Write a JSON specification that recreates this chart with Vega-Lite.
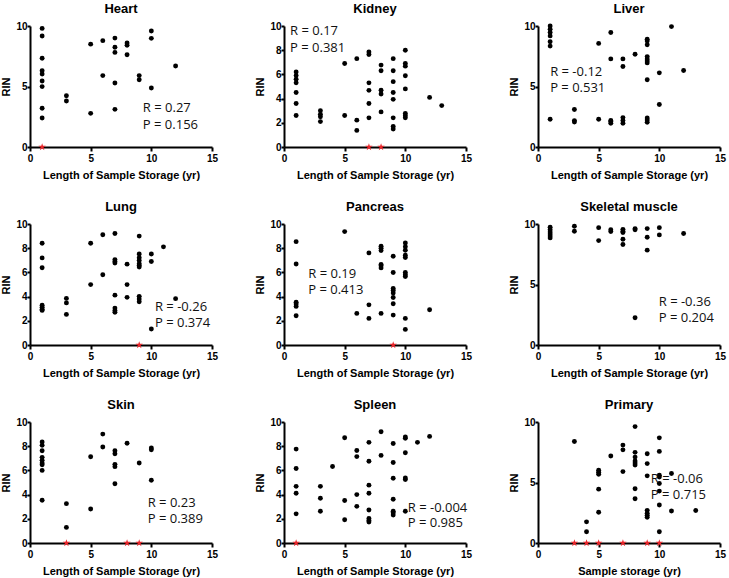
{
"$schema": "https://vega.github.io/schema/vega-lite/v6.json",
"padding": {"left": 0, "top": 3, "right": 2, "bottom": 2},
"background": "white",
"columns": 3,
"spacing": {"row": 21, "column": 36},
"config": {
  "view": {"stroke": null},
  "title": {"font": "Liberation Sans", "fontSize": 13, "fontWeight": "bold", "color": "black", "frame": "group", "offset": 5},
  "axis": {"grid": false, "domainColor": "black", "domainWidth": 2, "tickColor": "black", "tickWidth": 2, "labelFont": "Liberation Sans", "labelFontSize": 10, "labelFontWeight": "bold", "labelColor": "black", "labelFlush": false, "titleFont": "Liberation Sans", "titleFontSize": 11, "titleFontWeight": "bold", "titleColor": "black", "titlePadding": 4},
  "axisX": {"tickSize": 4, "labelPadding": 2, "titlePadding": 6},
  "axisY": {"tickSize": 3, "labelPadding": 0}
},
"datasets": {
"d": [
{"t":"Heart","k":"p","x":1,"y":9.8},{"t":"Heart","k":"p","x":1,"y":9.17},{"t":"Heart","k":"p","x":1,"y":7.33},{"t":"Heart","k":"p","x":1,"y":6.3},{"t":"Heart","k":"p","x":1,"y":6.03},{"t":"Heart","k":"p","x":1,"y":5.45},{"t":"Heart","k":"p","x":1,"y":4.99},{"t":"Heart","k":"p","x":1,"y":3.2},{"t":"Heart","k":"p","x":1,"y":2.4},{"t":"Heart","k":"p","x":3,"y":4.24},{"t":"Heart","k":"p","x":3,"y":3.8},{"t":"Heart","k":"p","x":5,"y":8.5},{"t":"Heart","k":"p","x":5,"y":2.78},{"t":"Heart","k":"p","x":6,"y":8.79},{"t":"Heart","k":"p","x":6,"y":5.9},{"t":"Heart","k":"p","x":7,"y":9.0},{"t":"Heart","k":"p","x":7,"y":8.24},{"t":"Heart","k":"p","x":7,"y":7.82},{"t":"Heart","k":"p","x":7,"y":5.29},{"t":"Heart","k":"p","x":7,"y":3.11},{"t":"Heart","k":"p","x":8,"y":8.6},{"t":"Heart","k":"p","x":8,"y":8.4},{"t":"Heart","k":"p","x":8,"y":7.63},{"t":"Heart","k":"p","x":9,"y":5.9},{"t":"Heart","k":"p","x":9,"y":5.56},{"t":"Heart","k":"p","x":10,"y":9.59},{"t":"Heart","k":"p","x":10,"y":8.98},{"t":"Heart","k":"p","x":10,"y":4.88},{"t":"Heart","k":"p","x":12,"y":6.69},
{"t":"Heart","k":"s","x":1,"y":0},
{"t":"Heart","k":"a","x":9.3,"y":3.2,"label":"R = 0.27"},{"t":"Heart","k":"a","x":9.3,"y":1.8,"label":"P = 0.156"},

{"t":"Kidney","k":"p","x":1,"y":6.2},{"t":"Kidney","k":"p","x":1,"y":5.9},{"t":"Kidney","k":"p","x":1,"y":5.6},{"t":"Kidney","k":"p","x":1,"y":5.3},{"t":"Kidney","k":"p","x":1,"y":4.5},{"t":"Kidney","k":"p","x":1,"y":3.6},{"t":"Kidney","k":"p","x":1,"y":2.6},{"t":"Kidney","k":"p","x":3,"y":3.0},{"t":"Kidney","k":"p","x":3,"y":2.7},{"t":"Kidney","k":"p","x":3,"y":2.5},{"t":"Kidney","k":"p","x":3,"y":2.1},{"t":"Kidney","k":"p","x":5,"y":6.9},{"t":"Kidney","k":"p","x":5,"y":2.6},{"t":"Kidney","k":"p","x":6,"y":7.3},{"t":"Kidney","k":"p","x":6,"y":2.22},{"t":"Kidney","k":"p","x":6,"y":1.37},{"t":"Kidney","k":"p","x":7,"y":7.86},{"t":"Kidney","k":"p","x":7,"y":7.64},{"t":"Kidney","k":"p","x":7,"y":5.3},{"t":"Kidney","k":"p","x":7,"y":4.68},{"t":"Kidney","k":"p","x":7,"y":3.6},{"t":"Kidney","k":"p","x":7,"y":2.41},{"t":"Kidney","k":"p","x":8,"y":6.77},{"t":"Kidney","k":"p","x":8,"y":6.3},{"t":"Kidney","k":"p","x":8,"y":4.7},{"t":"Kidney","k":"p","x":8,"y":4.38},{"t":"Kidney","k":"p","x":8,"y":2.9},{"t":"Kidney","k":"p","x":9,"y":7.3},{"t":"Kidney","k":"p","x":9,"y":6.3},{"t":"Kidney","k":"p","x":9,"y":5.4},{"t":"Kidney","k":"p","x":9,"y":4.5},{"t":"Kidney","k":"p","x":9,"y":3.94},{"t":"Kidney","k":"p","x":9,"y":2.41},{"t":"Kidney","k":"p","x":9,"y":1.7},{"t":"Kidney","k":"p","x":9,"y":1.48},{"t":"Kidney","k":"p","x":10,"y":8.0},{"t":"Kidney","k":"p","x":10,"y":6.9},{"t":"Kidney","k":"p","x":10,"y":6.68},{"t":"Kidney","k":"p","x":10,"y":5.89},{"t":"Kidney","k":"p","x":10,"y":4.8},{"t":"Kidney","k":"p","x":10,"y":2.77},{"t":"Kidney","k":"p","x":10,"y":2.58},{"t":"Kidney","k":"p","x":10,"y":2.41},{"t":"Kidney","k":"p","x":12,"y":4.1},{"t":"Kidney","k":"p","x":13,"y":3.42},
{"t":"Kidney","k":"s","x":7,"y":0},{"t":"Kidney","k":"s","x":8,"y":0},
{"t":"Kidney","k":"a","x":0.5,"y":9.6,"label":"R = 0.17"},{"t":"Kidney","k":"a","x":0.5,"y":8.2,"label":"P = 0.381"},

{"t":"Liver","k":"p","x":1,"y":10.0},{"t":"Liver","k":"p","x":1,"y":9.73},{"t":"Liver","k":"p","x":1,"y":9.46},{"t":"Liver","k":"p","x":1,"y":9.18},{"t":"Liver","k":"p","x":1,"y":8.7},{"t":"Liver","k":"p","x":1,"y":8.34},{"t":"Liver","k":"p","x":1,"y":2.29},{"t":"Liver","k":"p","x":3,"y":3.1},{"t":"Liver","k":"p","x":3,"y":2.18},{"t":"Liver","k":"p","x":3,"y":2.07},{"t":"Liver","k":"p","x":5,"y":8.56},{"t":"Liver","k":"p","x":5,"y":2.29},{"t":"Liver","k":"p","x":6,"y":9.46},{"t":"Liver","k":"p","x":6,"y":7.28},{"t":"Liver","k":"p","x":6,"y":2.2},{"t":"Liver","k":"p","x":6,"y":2.1},{"t":"Liver","k":"p","x":6,"y":1.96},{"t":"Liver","k":"p","x":7,"y":7.28},{"t":"Liver","k":"p","x":7,"y":6.65},{"t":"Liver","k":"p","x":7,"y":2.43},{"t":"Liver","k":"p","x":7,"y":2.18},{"t":"Liver","k":"p","x":7,"y":1.96},{"t":"Liver","k":"p","x":8,"y":7.66},{"t":"Liver","k":"p","x":9,"y":8.9},{"t":"Liver","k":"p","x":9,"y":8.77},{"t":"Liver","k":"p","x":9,"y":8.45},{"t":"Liver","k":"p","x":9,"y":7.47},{"t":"Liver","k":"p","x":9,"y":7.28},{"t":"Liver","k":"p","x":9,"y":7.11},{"t":"Liver","k":"p","x":9,"y":6.95},{"t":"Liver","k":"p","x":9,"y":5.56},{"t":"Liver","k":"p","x":9,"y":2.4},{"t":"Liver","k":"p","x":9,"y":2.23},{"t":"Liver","k":"p","x":9,"y":2.04},{"t":"Liver","k":"p","x":10,"y":6.13},{"t":"Liver","k":"p","x":10,"y":3.51},{"t":"Liver","k":"p","x":11,"y":9.95},{"t":"Liver","k":"p","x":12,"y":6.32},
{"t":"Liver","k":"a","x":1.0,"y":6.2,"label":"R = -0.12"},{"t":"Liver","k":"a","x":1.0,"y":4.85,"label":"P = 0.531"},

{"t":"Lung","k":"p","x":1,"y":8.41},{"t":"Lung","k":"p","x":1,"y":7.2},{"t":"Lung","k":"p","x":1,"y":6.39},{"t":"Lung","k":"p","x":1,"y":3.29},{"t":"Lung","k":"p","x":1,"y":3.13},{"t":"Lung","k":"p","x":1,"y":2.96},{"t":"Lung","k":"p","x":1,"y":2.86},{"t":"Lung","k":"p","x":3,"y":3.85},{"t":"Lung","k":"p","x":3,"y":3.48},{"t":"Lung","k":"p","x":3,"y":2.53},{"t":"Lung","k":"p","x":5,"y":8.41},{"t":"Lung","k":"p","x":5,"y":4.99},{"t":"Lung","k":"p","x":6,"y":9.11},{"t":"Lung","k":"p","x":6,"y":5.8},{"t":"Lung","k":"p","x":7,"y":9.22},{"t":"Lung","k":"p","x":7,"y":7.06},{"t":"Lung","k":"p","x":7,"y":6.9},{"t":"Lung","k":"p","x":7,"y":6.77},{"t":"Lung","k":"p","x":7,"y":4.12},{"t":"Lung","k":"p","x":7,"y":3.05},{"t":"Lung","k":"p","x":7,"y":2.86},{"t":"Lung","k":"p","x":7,"y":2.7},{"t":"Lung","k":"p","x":8,"y":6.68},{"t":"Lung","k":"p","x":8,"y":4.99},{"t":"Lung","k":"p","x":8,"y":3.94},{"t":"Lung","k":"p","x":9,"y":9.0},{"t":"Lung","k":"p","x":9,"y":7.52},{"t":"Lung","k":"p","x":9,"y":7.22},{"t":"Lung","k":"p","x":9,"y":6.98},{"t":"Lung","k":"p","x":9,"y":6.71},{"t":"Lung","k":"p","x":9,"y":6.58},{"t":"Lung","k":"p","x":9,"y":6.44},{"t":"Lung","k":"p","x":9,"y":4.02},{"t":"Lung","k":"p","x":9,"y":3.8},{"t":"Lung","k":"p","x":9,"y":3.58},{"t":"Lung","k":"p","x":10,"y":7.52},{"t":"Lung","k":"p","x":10,"y":6.9},{"t":"Lung","k":"p","x":10,"y":1.32},{"t":"Lung","k":"p","x":11,"y":8.11},{"t":"Lung","k":"p","x":12,"y":3.83},
{"t":"Lung","k":"s","x":9,"y":0},
{"t":"Lung","k":"a","x":10.3,"y":3.1,"label":"R = -0.26"},{"t":"Lung","k":"a","x":10.3,"y":1.78,"label":"P = 0.374"},

{"t":"Pancreas","k":"p","x":1,"y":8.54},{"t":"Pancreas","k":"p","x":1,"y":6.7},{"t":"Pancreas","k":"p","x":1,"y":3.54},{"t":"Pancreas","k":"p","x":1,"y":3.38},{"t":"Pancreas","k":"p","x":1,"y":3.19},{"t":"Pancreas","k":"p","x":1,"y":2.42},{"t":"Pancreas","k":"p","x":5,"y":9.37},{"t":"Pancreas","k":"p","x":6,"y":2.61},{"t":"Pancreas","k":"p","x":7,"y":7.61},{"t":"Pancreas","k":"p","x":7,"y":3.32},{"t":"Pancreas","k":"p","x":7,"y":2.2},{"t":"Pancreas","k":"p","x":8,"y":8.16},{"t":"Pancreas","k":"p","x":8,"y":7.99},{"t":"Pancreas","k":"p","x":8,"y":7.8},{"t":"Pancreas","k":"p","x":8,"y":6.65},{"t":"Pancreas","k":"p","x":8,"y":6.54},{"t":"Pancreas","k":"p","x":8,"y":6.37},{"t":"Pancreas","k":"p","x":8,"y":2.61},{"t":"Pancreas","k":"p","x":9,"y":7.33},{"t":"Pancreas","k":"p","x":9,"y":5.99},{"t":"Pancreas","k":"p","x":9,"y":4.67},{"t":"Pancreas","k":"p","x":9,"y":4.5},{"t":"Pancreas","k":"p","x":9,"y":4.29},{"t":"Pancreas","k":"p","x":9,"y":3.93},{"t":"Pancreas","k":"p","x":9,"y":3.41},{"t":"Pancreas","k":"p","x":9,"y":2.47},{"t":"Pancreas","k":"p","x":10,"y":8.43},{"t":"Pancreas","k":"p","x":10,"y":8.13},{"t":"Pancreas","k":"p","x":10,"y":7.83},{"t":"Pancreas","k":"p","x":10,"y":7.42},{"t":"Pancreas","k":"p","x":10,"y":7.23},{"t":"Pancreas","k":"p","x":10,"y":5.99},{"t":"Pancreas","k":"p","x":10,"y":5.8},{"t":"Pancreas","k":"p","x":10,"y":5.66},{"t":"Pancreas","k":"p","x":10,"y":2.2},{"t":"Pancreas","k":"p","x":10,"y":1.29},{"t":"Pancreas","k":"p","x":12,"y":2.91},
{"t":"Pancreas","k":"s","x":9,"y":0},
{"t":"Pancreas","k":"a","x":2.0,"y":5.88,"label":"R = 0.19"},{"t":"Pancreas","k":"a","x":2.0,"y":4.56,"label":"P = 0.413"},

{"t":"Skeletal muscle","k":"p","x":1,"y":9.73},{"t":"Skeletal muscle","k":"p","x":1,"y":9.53},{"t":"Skeletal muscle","k":"p","x":1,"y":9.34},{"t":"Skeletal muscle","k":"p","x":1,"y":9.18},{"t":"Skeletal muscle","k":"p","x":1,"y":9.01},{"t":"Skeletal muscle","k":"p","x":1,"y":8.85},{"t":"Skeletal muscle","k":"p","x":3,"y":9.81},{"t":"Skeletal muscle","k":"p","x":3,"y":9.4},{"t":"Skeletal muscle","k":"p","x":5,"y":9.7},{"t":"Skeletal muscle","k":"p","x":5,"y":8.63},{"t":"Skeletal muscle","k":"p","x":6,"y":9.53},{"t":"Skeletal muscle","k":"p","x":6,"y":9.37},{"t":"Skeletal muscle","k":"p","x":7,"y":9.56},{"t":"Skeletal muscle","k":"p","x":7,"y":9.4},{"t":"Skeletal muscle","k":"p","x":7,"y":9.29},{"t":"Skeletal muscle","k":"p","x":7,"y":8.74},{"t":"Skeletal muscle","k":"p","x":7,"y":8.3},{"t":"Skeletal muscle","k":"p","x":8,"y":9.62},{"t":"Skeletal muscle","k":"p","x":8,"y":9.53},{"t":"Skeletal muscle","k":"p","x":8,"y":2.25},{"t":"Skeletal muscle","k":"p","x":9,"y":9.62},{"t":"Skeletal muscle","k":"p","x":9,"y":8.9},{"t":"Skeletal muscle","k":"p","x":9,"y":7.84},{"t":"Skeletal muscle","k":"p","x":10,"y":9.7},{"t":"Skeletal muscle","k":"p","x":10,"y":9.1},{"t":"Skeletal muscle","k":"p","x":12,"y":9.21},
{"t":"Skeletal muscle","k":"a","x":9.95,"y":3.53,"label":"R = -0.36"},{"t":"Skeletal muscle","k":"a","x":9.95,"y":2.22,"label":"P = 0.204"},

{"t":"Skin","k":"p","x":1,"y":8.35},{"t":"Skin","k":"p","x":1,"y":8.07},{"t":"Skin","k":"p","x":1,"y":7.63},{"t":"Skin","k":"p","x":1,"y":7.08},{"t":"Skin","k":"p","x":1,"y":6.83},{"t":"Skin","k":"p","x":1,"y":6.61},{"t":"Skin","k":"p","x":1,"y":6.47},{"t":"Skin","k":"p","x":1,"y":6.0},{"t":"Skin","k":"p","x":1,"y":3.53},{"t":"Skin","k":"p","x":3,"y":3.25},{"t":"Skin","k":"p","x":3,"y":1.29},{"t":"Skin","k":"p","x":5,"y":7.13},{"t":"Skin","k":"p","x":5,"y":2.81},{"t":"Skin","k":"p","x":6,"y":9.0},{"t":"Skin","k":"p","x":6,"y":7.93},{"t":"Skin","k":"p","x":7,"y":7.63},{"t":"Skin","k":"p","x":7,"y":7.38},{"t":"Skin","k":"p","x":7,"y":6.5},{"t":"Skin","k":"p","x":7,"y":6.31},{"t":"Skin","k":"p","x":7,"y":4.9},{"t":"Skin","k":"p","x":8,"y":8.24},{"t":"Skin","k":"p","x":9,"y":6.61},{"t":"Skin","k":"p","x":10,"y":7.85},{"t":"Skin","k":"p","x":10,"y":7.71},{"t":"Skin","k":"p","x":10,"y":5.18},
{"t":"Skin","k":"s","x":3,"y":0},{"t":"Skin","k":"s","x":8,"y":0},{"t":"Skin","k":"s","x":9,"y":0},
{"t":"Skin","k":"a","x":9.7,"y":3.33,"label":"R = 0.23"},{"t":"Skin","k":"a","x":9.7,"y":1.96,"label":"P = 0.389"},

{"t":"Spleen","k":"p","x":1,"y":7.76},{"t":"Spleen","k":"p","x":1,"y":6.16},{"t":"Spleen","k":"p","x":1,"y":4.68},{"t":"Spleen","k":"p","x":1,"y":4.11},{"t":"Spleen","k":"p","x":1,"y":2.41},{"t":"Spleen","k":"p","x":3,"y":4.68},{"t":"Spleen","k":"p","x":3,"y":3.7},{"t":"Spleen","k":"p","x":3,"y":2.62},{"t":"Spleen","k":"p","x":4,"y":6.32},{"t":"Spleen","k":"p","x":5,"y":8.7},{"t":"Spleen","k":"p","x":5,"y":3.51},{"t":"Spleen","k":"p","x":5,"y":1.92},{"t":"Spleen","k":"p","x":6,"y":7.65},{"t":"Spleen","k":"p","x":6,"y":7.14},{"t":"Spleen","k":"p","x":6,"y":4.0},{"t":"Spleen","k":"p","x":6,"y":3.03},{"t":"Spleen","k":"p","x":7,"y":8.32},{"t":"Spleen","k":"p","x":7,"y":6.76},{"t":"Spleen","k":"p","x":7,"y":4.78},{"t":"Spleen","k":"p","x":7,"y":4.11},{"t":"Spleen","k":"p","x":7,"y":2.73},{"t":"Spleen","k":"p","x":7,"y":2.03},{"t":"Spleen","k":"p","x":7,"y":1.86},{"t":"Spleen","k":"p","x":7,"y":1.73},{"t":"Spleen","k":"p","x":8,"y":9.19},{"t":"Spleen","k":"p","x":8,"y":7.24},{"t":"Spleen","k":"p","x":9,"y":8.22},{"t":"Spleen","k":"p","x":9,"y":6.65},{"t":"Spleen","k":"p","x":9,"y":5.35},{"t":"Spleen","k":"p","x":9,"y":3.62},{"t":"Spleen","k":"p","x":9,"y":2.62},{"t":"Spleen","k":"p","x":9,"y":2.49},{"t":"Spleen","k":"p","x":9,"y":2.32},{"t":"Spleen","k":"p","x":10,"y":8.76},{"t":"Spleen","k":"p","x":10,"y":8.65},{"t":"Spleen","k":"p","x":10,"y":7.46},{"t":"Spleen","k":"p","x":10,"y":5.38},{"t":"Spleen","k":"p","x":10,"y":5.24},{"t":"Spleen","k":"p","x":10,"y":2.62},{"t":"Spleen","k":"p","x":11,"y":8.32},{"t":"Spleen","k":"p","x":12,"y":8.81},
{"t":"Spleen","k":"s","x":1,"y":0},
{"t":"Spleen","k":"a","x":10.2,"y":2.86,"label":"R = -0.004"},{"t":"Spleen","k":"a","x":10.2,"y":1.62,"label":"P = 0.985"},

{"t":"Primary","k":"p","x":3,"y":8.39},{"t":"Primary","k":"p","x":4,"y":1.75},{"t":"Primary","k":"p","x":4,"y":0.93},{"t":"Primary","k":"p","x":5,"y":6.01},{"t":"Primary","k":"p","x":5,"y":5.85},{"t":"Primary","k":"p","x":5,"y":5.68},{"t":"Primary","k":"p","x":5,"y":4.45},{"t":"Primary","k":"p","x":5,"y":2.54},{"t":"Primary","k":"p","x":6,"y":7.19},{"t":"Primary","k":"p","x":7,"y":8.09},{"t":"Primary","k":"p","x":7,"y":7.7},{"t":"Primary","k":"p","x":7,"y":5.9},{"t":"Primary","k":"p","x":8,"y":9.62},{"t":"Primary","k":"p","x":8,"y":7.49},{"t":"Primary","k":"p","x":8,"y":7.1},{"t":"Primary","k":"p","x":8,"y":6.78},{"t":"Primary","k":"p","x":8,"y":6.61},{"t":"Primary","k":"p","x":8,"y":6.45},{"t":"Primary","k":"p","x":8,"y":4.48},{"t":"Primary","k":"p","x":8,"y":3.66},{"t":"Primary","k":"p","x":9,"y":7.38},{"t":"Primary","k":"p","x":9,"y":6.56},{"t":"Primary","k":"p","x":9,"y":5.55},{"t":"Primary","k":"p","x":9,"y":2.7},{"t":"Primary","k":"p","x":9,"y":2.46},{"t":"Primary","k":"p","x":9,"y":2.3},{"t":"Primary","k":"p","x":9,"y":2.13},{"t":"Primary","k":"p","x":10,"y":8.69},{"t":"Primary","k":"p","x":10,"y":7.57},{"t":"Primary","k":"p","x":10,"y":5.6},{"t":"Primary","k":"p","x":10,"y":5.46},{"t":"Primary","k":"p","x":10,"y":4.92},{"t":"Primary","k":"p","x":10,"y":4.29},{"t":"Primary","k":"p","x":10,"y":3.14},{"t":"Primary","k":"p","x":10,"y":0.93},{"t":"Primary","k":"p","x":11,"y":5.74},{"t":"Primary","k":"p","x":11,"y":2.65},{"t":"Primary","k":"p","x":13,"y":2.68},
{"t":"Primary","k":"s","x":3,"y":0},{"t":"Primary","k":"s","x":4,"y":0},{"t":"Primary","k":"s","x":5,"y":0},{"t":"Primary","k":"s","x":7,"y":0},{"t":"Primary","k":"s","x":9,"y":0},{"t":"Primary","k":"s","x":10,"y":0},
{"t":"Primary","k":"a","x":9.3,"y":5.33,"label":"R = -0.06"},{"t":"Primary","k":"a","x":9.3,"y":3.96,"label":"P = 0.715"}
]
},
"concat": [
{"title":"Heart","width":182,"height":121,"data":{"name":"d"},"transform":[{"filter":"datum.t==='Heart'"}],
 "encoding":{"x":{"field":"x","type":"quantitative","scale":{"domain":[0,15],"nice":false},"axis":{"values":[0,5,10,15],"title":"Length of Sample Storage (yr)"}},"y":{"field":"y","type":"quantitative","scale":{"domain":[0,10],"nice":false},"axis":{"values":[0,5,10],"title":"RIN"}}},
 "layer":[
  {"transform":[{"filter":"datum.k==='p'"}],"mark":{"type":"circle","size":24,"color":"black","opacity":1}},
  {"transform":[{"filter":"datum.k==='s'"}],"mark":{"type":"point","shape":"M0,-1L0.2245,-0.309L0.951,-0.309L0.363,0.118L0.588,0.809L0,0.382L-0.588,0.809L-0.363,0.118L-0.951,-0.309L-0.2245,-0.309Z","size":60,"filled":true,"color":"#e8262b","opacity":1}},
  {"transform":[{"filter":"datum.k==='a'"}],"mark":{"type":"text","align":"left","baseline":"middle","font":"Open Sans","fontSize":13,"color":"#111"},"encoding":{"text":{"field":"label"}}}
 ]},
{"title":"Kidney","width":182,"height":121,"data":{"name":"d"},"transform":[{"filter":"datum.t==='Kidney'"}],
 "encoding":{"x":{"field":"x","type":"quantitative","scale":{"domain":[0,15],"nice":false},"axis":{"values":[0,5,10,15],"title":"Length of Sample Storage (yr)"}},"y":{"field":"y","type":"quantitative","scale":{"domain":[0,10],"nice":false},"axis":{"values":[0,2,4,6,8,10],"title":"RIN"}}},
 "layer":[
  {"transform":[{"filter":"datum.k==='p'"}],"mark":{"type":"circle","size":24,"color":"black","opacity":1}},
  {"transform":[{"filter":"datum.k==='s'"}],"mark":{"type":"point","shape":"M0,-1L0.2245,-0.309L0.951,-0.309L0.363,0.118L0.588,0.809L0,0.382L-0.588,0.809L-0.363,0.118L-0.951,-0.309L-0.2245,-0.309Z","size":60,"filled":true,"color":"#e8262b","opacity":1}},
  {"transform":[{"filter":"datum.k==='a'"}],"mark":{"type":"text","align":"left","baseline":"middle","font":"Open Sans","fontSize":13,"color":"#111"},"encoding":{"text":{"field":"label"}}}
 ]},
{"title":"Liver","width":182,"height":121,"data":{"name":"d"},"transform":[{"filter":"datum.t==='Liver'"}],
 "encoding":{"x":{"field":"x","type":"quantitative","scale":{"domain":[0,15],"nice":false},"axis":{"values":[0,5,10,15],"title":"Length of Sample Storage (yr)"}},"y":{"field":"y","type":"quantitative","scale":{"domain":[0,10],"nice":false},"axis":{"values":[0,5,10],"title":"RIN"}}},
 "layer":[
  {"transform":[{"filter":"datum.k==='p'"}],"mark":{"type":"circle","size":24,"color":"black","opacity":1}},
  {"transform":[{"filter":"datum.k==='s'"}],"mark":{"type":"point","shape":"M0,-1L0.2245,-0.309L0.951,-0.309L0.363,0.118L0.588,0.809L0,0.382L-0.588,0.809L-0.363,0.118L-0.951,-0.309L-0.2245,-0.309Z","size":60,"filled":true,"color":"#e8262b","opacity":1}},
  {"transform":[{"filter":"datum.k==='a'"}],"mark":{"type":"text","align":"left","baseline":"middle","font":"Open Sans","fontSize":13,"color":"#111"},"encoding":{"text":{"field":"label"}}}
 ]},
{"title":"Lung","width":182,"height":121,"data":{"name":"d"},"transform":[{"filter":"datum.t==='Lung'"}],
 "encoding":{"x":{"field":"x","type":"quantitative","scale":{"domain":[0,15],"nice":false},"axis":{"values":[0,5,10,15],"title":"Length of Sample Storage (yr)"}},"y":{"field":"y","type":"quantitative","scale":{"domain":[0,10],"nice":false},"axis":{"values":[0,2,4,6,8,10],"title":"RIN"}}},
 "layer":[
  {"transform":[{"filter":"datum.k==='p'"}],"mark":{"type":"circle","size":24,"color":"black","opacity":1}},
  {"transform":[{"filter":"datum.k==='s'"}],"mark":{"type":"point","shape":"M0,-1L0.2245,-0.309L0.951,-0.309L0.363,0.118L0.588,0.809L0,0.382L-0.588,0.809L-0.363,0.118L-0.951,-0.309L-0.2245,-0.309Z","size":60,"filled":true,"color":"#e8262b","opacity":1}},
  {"transform":[{"filter":"datum.k==='a'"}],"mark":{"type":"text","align":"left","baseline":"middle","font":"Open Sans","fontSize":13,"color":"#111"},"encoding":{"text":{"field":"label"}}}
 ]},
{"title":"Pancreas","width":182,"height":121,"data":{"name":"d"},"transform":[{"filter":"datum.t==='Pancreas'"}],
 "encoding":{"x":{"field":"x","type":"quantitative","scale":{"domain":[0,15],"nice":false},"axis":{"values":[0,5,10,15],"title":"Length of Sample Storage (yr)"}},"y":{"field":"y","type":"quantitative","scale":{"domain":[0,10],"nice":false},"axis":{"values":[0,2,4,6,8,10],"title":"RIN"}}},
 "layer":[
  {"transform":[{"filter":"datum.k==='p'"}],"mark":{"type":"circle","size":24,"color":"black","opacity":1}},
  {"transform":[{"filter":"datum.k==='s'"}],"mark":{"type":"point","shape":"M0,-1L0.2245,-0.309L0.951,-0.309L0.363,0.118L0.588,0.809L0,0.382L-0.588,0.809L-0.363,0.118L-0.951,-0.309L-0.2245,-0.309Z","size":60,"filled":true,"color":"#e8262b","opacity":1}},
  {"transform":[{"filter":"datum.k==='a'"}],"mark":{"type":"text","align":"left","baseline":"middle","font":"Open Sans","fontSize":13,"color":"#111"},"encoding":{"text":{"field":"label"}}}
 ]},
{"title":"Skeletal muscle","width":182,"height":121,"data":{"name":"d"},"transform":[{"filter":"datum.t==='Skeletal muscle'"}],
 "encoding":{"x":{"field":"x","type":"quantitative","scale":{"domain":[0,15],"nice":false},"axis":{"values":[0,5,10,15],"title":"Length of Sample Storage (yr)"}},"y":{"field":"y","type":"quantitative","scale":{"domain":[0,10],"nice":false},"axis":{"values":[0,5,10],"title":"RIN"}}},
 "layer":[
  {"transform":[{"filter":"datum.k==='p'"}],"mark":{"type":"circle","size":24,"color":"black","opacity":1}},
  {"transform":[{"filter":"datum.k==='s'"}],"mark":{"type":"point","shape":"M0,-1L0.2245,-0.309L0.951,-0.309L0.363,0.118L0.588,0.809L0,0.382L-0.588,0.809L-0.363,0.118L-0.951,-0.309L-0.2245,-0.309Z","size":60,"filled":true,"color":"#e8262b","opacity":1}},
  {"transform":[{"filter":"datum.k==='a'"}],"mark":{"type":"text","align":"left","baseline":"middle","font":"Open Sans","fontSize":13,"color":"#111"},"encoding":{"text":{"field":"label"}}}
 ]},
{"title":"Skin","width":182,"height":121,"data":{"name":"d"},"transform":[{"filter":"datum.t==='Skin'"}],
 "encoding":{"x":{"field":"x","type":"quantitative","scale":{"domain":[0,15],"nice":false},"axis":{"values":[0,5,10,15],"title":"Length of Sample Storage (yr)"}},"y":{"field":"y","type":"quantitative","scale":{"domain":[0,10],"nice":false},"axis":{"values":[0,2,4,6,8,10],"title":"RIN"}}},
 "layer":[
  {"transform":[{"filter":"datum.k==='p'"}],"mark":{"type":"circle","size":24,"color":"black","opacity":1}},
  {"transform":[{"filter":"datum.k==='s'"}],"mark":{"type":"point","shape":"M0,-1L0.2245,-0.309L0.951,-0.309L0.363,0.118L0.588,0.809L0,0.382L-0.588,0.809L-0.363,0.118L-0.951,-0.309L-0.2245,-0.309Z","size":60,"filled":true,"color":"#e8262b","opacity":1}},
  {"transform":[{"filter":"datum.k==='a'"}],"mark":{"type":"text","align":"left","baseline":"middle","font":"Open Sans","fontSize":13,"color":"#111"},"encoding":{"text":{"field":"label"}}}
 ]},
{"title":"Spleen","width":182,"height":121,"data":{"name":"d"},"transform":[{"filter":"datum.t==='Spleen'"}],
 "encoding":{"x":{"field":"x","type":"quantitative","scale":{"domain":[0,15],"nice":false},"axis":{"values":[0,5,10,15],"title":"Length of Sample Storage (yr)"}},"y":{"field":"y","type":"quantitative","scale":{"domain":[0,10],"nice":false},"axis":{"values":[0,2,4,6,8,10],"title":"RIN"}}},
 "layer":[
  {"transform":[{"filter":"datum.k==='p'"}],"mark":{"type":"circle","size":24,"color":"black","opacity":1}},
  {"transform":[{"filter":"datum.k==='s'"}],"mark":{"type":"point","shape":"M0,-1L0.2245,-0.309L0.951,-0.309L0.363,0.118L0.588,0.809L0,0.382L-0.588,0.809L-0.363,0.118L-0.951,-0.309L-0.2245,-0.309Z","size":60,"filled":true,"color":"#e8262b","opacity":1}},
  {"transform":[{"filter":"datum.k==='a'"}],"mark":{"type":"text","align":"left","baseline":"middle","font":"Open Sans","fontSize":13,"color":"#111"},"encoding":{"text":{"field":"label"}}}
 ]},
{"title":"Primary","width":182,"height":121,"data":{"name":"d"},"transform":[{"filter":"datum.t==='Primary'"}],
 "encoding":{"x":{"field":"x","type":"quantitative","scale":{"domain":[0,15],"nice":false},"axis":{"values":[0,5,10,15],"title":"Sample storage (yr)"}},"y":{"field":"y","type":"quantitative","scale":{"domain":[0,10],"nice":false},"axis":{"values":[0,5,10],"title":"RIN"}}},
 "layer":[
  {"transform":[{"filter":"datum.k==='p'"}],"mark":{"type":"circle","size":24,"color":"black","opacity":1}},
  {"transform":[{"filter":"datum.k==='s'"}],"mark":{"type":"point","shape":"M0,-1L0.2245,-0.309L0.951,-0.309L0.363,0.118L0.588,0.809L0,0.382L-0.588,0.809L-0.363,0.118L-0.951,-0.309L-0.2245,-0.309Z","size":60,"filled":true,"color":"#e8262b","opacity":1}},
  {"transform":[{"filter":"datum.k==='a'"}],"mark":{"type":"text","align":"left","baseline":"middle","font":"Open Sans","fontSize":13,"color":"#111"},"encoding":{"text":{"field":"label"}}}
 ]}
]
}
